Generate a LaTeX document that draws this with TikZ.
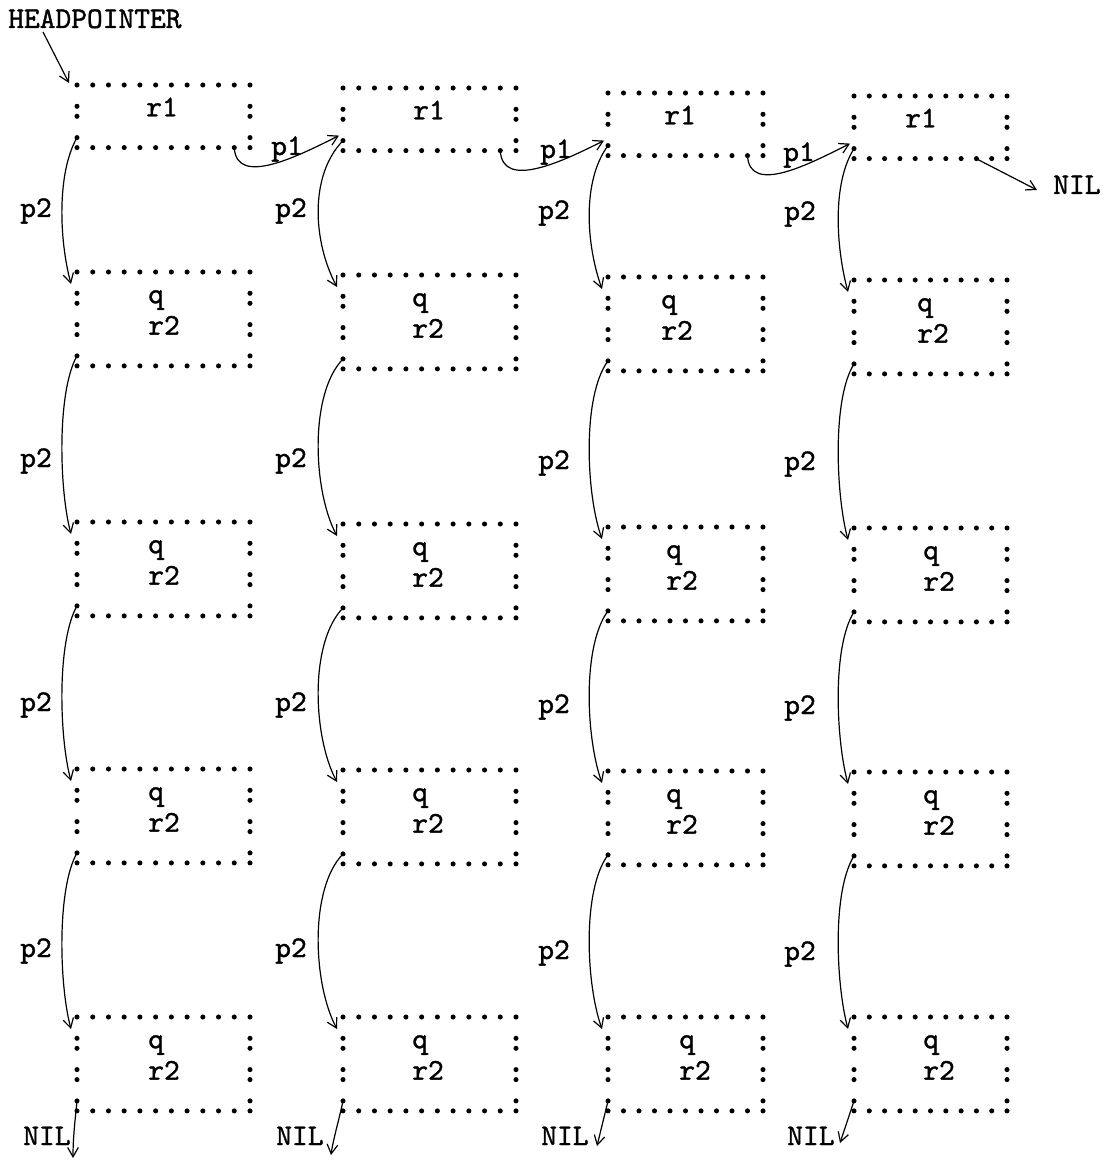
\documentclass[tikz,border=0pt]{standalone}
\usepackage{fontspec}
\newfontfamily\typew{lmmono10-regular.otf}[FakeBold=1.2]
\usetikzlibrary{arrows.meta,calc}
\tikzset{
  ptr/.style={line width=0.9pt, -{Straight Barb[length=7pt,width=8pt]}},
  txt/.style={font=\fontsize{22.5}{26}\selectfont\typew, inner sep=0pt, anchor=base west},
  cellbox/.style={draw=none, inner sep=0pt, rectangle},
}
\newcommand\tdot[2]{\fill (#1,#2) circle[radius=1.9pt];}
\newcommand\tcolon[2]{\fill (#1,#2) circle[radius=1.9pt] (#1,#2-10) circle[radius=1.9pt];}
% #1 name, #2 left, #3 top, #4 right, #5 number of dots, #6 inner lines
\newcommand\cell[6]{%
  \pgfmathsetmacro\cfp{(#4-#2)/(#5-1)}%
  \pgfmathsetmacro\cfb{#3+31.3*(#6+1)}%
  \pgfmathtruncatemacro\cfn{#5-1}%
  \pgfmathtruncatemacro\cfm{#5-2}%
  \node[cellbox, minimum width={(#4-#2)*0.75pt}, minimum height={(\cfb-#3)*0.75pt}] (#1) at ({(#2+#4)/2},{(#3+\cfb)/2}) {};
  \foreach \i in {0,...,\cfn} {\tdot{#2+\i*\cfp}{#3}}
  \foreach \k in {1,...,#6} {\tcolon{#2}{#3+31.3*\k}\tcolon{#4}{#3+31.3*\k}}
  \foreach \i in {1,...,\cfm} {\tdot{#2+\i*\cfp}{\cfb}}
  \tcolon{#2}{\cfb}\tcolon{#4}{\cfb}
  \coordinate (#1-bl) at (#2,\cfb-10);
  \coordinate (#1-tl) at (#2-6,#3+12);
  \coordinate (#1-in) at (#2-4,\cfb-15);
  \coordinate (#1-out) at ({#2+\cfm*\cfp},\cfb);
}
\begin{document}
\begin{tikzpicture}[x=0.75pt,y=-0.75pt]
\useasboundingbox (0,0) rectangle (1114,1162);

% ---- cells ----
\cell{c11}{77}{85}{250}{12}{1}
\cell{c12}{343}{88}{516}{12}{1}
\cell{c13}{608}{93}{763}{11}{1}
\cell{c14}{854}{96}{1007}{11}{1}

\cell{c21}{77}{272}{250}{12}{2}
\cell{c22}{343}{275}{516}{12}{2}
\cell{c23}{608}{277}{763}{11}{2}
\cell{c24}{854}{280}{1007}{11}{2}

\cell{c31}{77}{522}{250}{12}{2}
\cell{c32}{343}{524}{516}{12}{2}
\cell{c33}{608}{527}{763}{11}{2}
\cell{c34}{854}{528}{1007}{11}{2}

\cell{c41}{77}{769}{250}{12}{2}
\cell{c42}{343}{770}{516}{12}{2}
\cell{c43}{608}{771}{763}{11}{2}
\cell{c44}{854}{772}{1007}{11}{2}

\cell{c51}{77}{1017}{250}{12}{2}
\cell{c52}{343}{1017}{516}{12}{2}
\cell{c53}{608}{1017}{763}{11}{2}
\cell{c54}{854}{1017}{1007}{11}{2}

% ---- cell texts ----
\node[txt] (t11) at (146,85+31.3) {r1};
\node[txt] (t12) at (413,88+31.3) {r1};
\node[txt] (t13) at (664,93+31.3) {r1};
\node[txt] (t14) at (905,96+31.3) {r1};

\node[txt] (q21) at (148,272+31.3) {q}; \node[txt] (r21) at (148,272+62.6) {r2};
\node[txt] (q22) at (412,275+31.3) {q}; \node[txt] (r22) at (412,275+62.6) {r2};
\node[txt] (q23) at (661,277+31.3) {q}; \node[txt] (r23) at (661,277+62.6) {r2};
\node[txt] (q24) at (917,280+31.3) {q}; \node[txt] (r24) at (917,280+62.6) {r2};

\node[txt] (q31) at (148,522+31.3) {q}; \node[txt] (r31) at (148,522+62.6) {r2};
\node[txt] (q32) at (412,524+31.3) {q}; \node[txt] (r32) at (412,524+62.6) {r2};
\node[txt] (q33) at (666,527+31.3) {q}; \node[txt] (r33) at (666,527+62.6) {r2};
\node[txt] (q34) at (923,528+31.3) {q}; \node[txt] (r34) at (923,528+62.6) {r2};

\node[txt] (q41) at (148,769+31.3) {q}; \node[txt] (r41) at (148,769+62.6) {r2};
\node[txt] (q42) at (412,770+31.3) {q}; \node[txt] (r42) at (412,770+62.6) {r2};
\node[txt] (q43) at (666,771+31.3) {q}; \node[txt] (r43) at (666,771+62.6) {r2};
\node[txt] (q44) at (923,772+31.3) {q}; \node[txt] (r44) at (923,772+62.6) {r2};

\node[txt] (q51) at (148,1017+31.3) {q}; \node[txt] (r51) at (148,1017+62.6) {r2};
\node[txt] (q52) at (412,1017+31.3) {q}; \node[txt] (r52) at (412,1017+62.6) {r2};
\node[txt] (q53) at (679,1017+31.3) {q}; \node[txt] (r53) at (679,1017+62.6) {r2};
\node[txt] (q54) at (923,1017+31.3) {q}; \node[txt] (r54) at (923,1017+62.6) {r2};

% ---- head pointer ----
\node[txt] (head) at (8,28) {HEADPOINTER};
\coordinate (hp) at (43,32);
\coordinate (c11-hp) at (69,83);
\draw[ptr] (hp) -- (c11-hp);

% ---- p1 pointers ----
\node[txt] (lp1a) at (271,155) {p1};
\node[txt] (lp1b) at (540,158) {p1};
\node[txt] (lp1c) at (783,161) {p1};
\draw[ptr] (c11-out) .. controls +(2,40) and +(-40,20) .. (c12-in);
\draw[ptr] (c12-out) .. controls +(2,40) and +(-40,20) .. (c13-in);
\draw[ptr] (c13-out) .. controls +(2,40) and +(-40,20) .. (c14-in);

% ---- NIL from last r1 ----
\node[txt] (nil0) at (1053,194) {NIL};
\coordinate (c14-nils) at (976,158.6);
\coordinate (nil0-tip) at (1037,190);
\draw[ptr] (c14-nils) -- (nil0-tip);

% ---- p2 labels ----
\foreach \yy [count=\r] in {217,467,711,957} {
  \node[txt] (lp2-\r-1) at (20,\yy) {p2};
  \node[txt] (lp2-\r-2) at (275,\yy) {p2};
  \node[txt] (lp2-\r-3) at (538,\yy+2) {p2};
  \node[txt] (lp2-\r-4) at (784,\yy+3) {p2};
}

% ---- p2 pointers ----
\foreach \r [evaluate=\r as \s using int(\r+1)] in {1,2,3,4} {
  \draw[ptr] (c\r1-bl) .. controls +(-20,35) and +(-12,-45) .. (c\s1-tl);
  \draw[ptr] (c\r2-bl) .. controls +(-34,35) and +(-24,-45) .. (c\s2-tl);
  \draw[ptr] (c\r3-bl) .. controls +(-26,35) and +(-16,-45) .. (c\s3-tl);
  \draw[ptr] (c\r4-bl) .. controls +(-22,35) and +(-12,-45) .. (c\s4-tl);
}

% ---- bottom NILs ----
\node[txt] (nil1) at (23,1145) {NIL};
\node[txt] (nil2) at (276,1145) {NIL};
\node[txt] (nil3) at (541,1145) {NIL};
\node[txt] (nil4) at (787,1145) {NIL};
\coordinate (nil1-tip) at (73,1158);
\coordinate (nil2-tip) at (331,1155);
\coordinate (nil3-tip) at (597,1146);
\coordinate (nil4-tip) at (840,1143);
\draw[ptr] (c51-bl) .. controls +(-2,20) and +(0,-20) .. (nil1-tip);
\draw[ptr] (c52-bl) .. controls +(-3,15) and +(2,-15) .. (nil2-tip);
\draw[ptr] (c53-bl) -- (nil3-tip);
\draw[ptr] (c54-bl) -- (nil4-tip);
\end{tikzpicture}
\end{document}
